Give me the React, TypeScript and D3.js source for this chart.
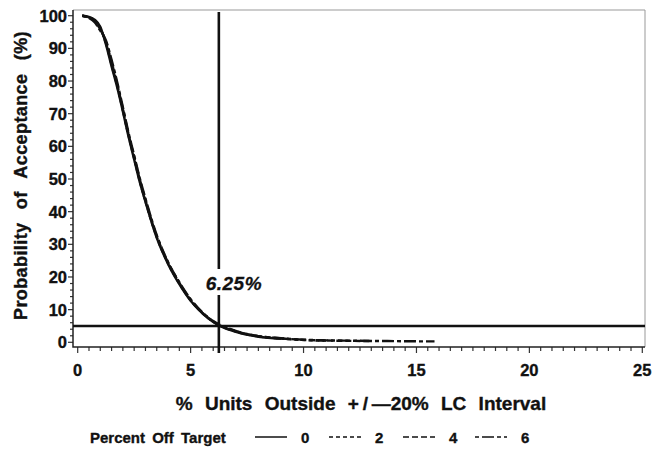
import React, { useEffect, useRef } from "react";
import * as d3 from "d3";

// % units outside +/-20% LC interval (x) for the OC curves
const pctOutside = [0.2, 0.5, 0.75, 1, 1.25, 1.5, 1.75, 2, 2.25, 2.5, 2.75, 3, 3.5, 4, 4.5, 5, 5.5, 6, 6.25, 7, 8, 9, 10, 11, 12, 13, 14, 15, 15.8];

// probability of acceptance (%) for each percent-off-target series
const accept0 = [100, 99.6, 98.8, 96.6, 91.2, 84.5, 78, 70.7, 63, 56, 49, 43, 32, 24, 17.8, 12.7, 9.0, 6.2, 5.2, 3.2, 1.7, 1.1];
const accept2 = [100, 99.5, 98.6, 96.2, 91.6, 85, 78.5, 71, 63.3, 56.3, 49.3, 43.2, 32.2, 24.2, 18, 12.9, 9.1, 6.3, 5.3, 3.3, 1.8, 1.15, 0.7, 0.5];
const accept4 = [100, 99.4, 98.3, 95.8, 92, 85.8, 79, 71.5, 63.8, 56.8, 49.8, 43.6, 32.5, 24.4, 18.2, 13.0, 9.2, 6.4, 5.4, 3.4, 1.85, 1.2, 0.75, 0.55, 0.45, 0.38];
const accept6 = [100, 99.3, 98.0, 95.4, 92.4, 86.5, 79.6, 72, 64.2, 57.2, 50.2, 44, 32.8, 24.6, 18.4, 13.2, 9.3, 6.5, 5.5, 3.5, 1.9, 1.25, 0.8, 0.6, 0.5, 0.42, 0.36, 0.3, 0.28];

const seriesNames = ["0", "2", "4", "6"];
const seriesValues = [accept0, accept2, accept4, accept6];
const seriesDash = ["none", "4,3", "6,3", "4,3,12,3"];

const xTicks = [0, 5, 10, 15, 20, 25];
const yTicks = [0, 10, 20, 30, 40, 50, 60, 70, 80, 90, 100];
const refX = 6.25;
const refY = 5;

const font = "'Liberation Sans', Arial, Helvetica, sans-serif";

export default function App() {
  const ref = useRef<SVGSVGElement>(null);

  useEffect(() => {
    const svg = d3.select(ref.current);
    svg.selectAll("*").remove();

    const frame = { left: 73, right: 645, top: 10, bottom: 347 };
    const x = d3.scaleLinear().domain([0, 25]).range([77.7, 642.3]);
    const y = d3.scaleLinear().domain([0, 100]).range([342.3, 15.7]);

    // bold text helper, slightly heavier than the stock bold face
    const heavy = (sel: any, size: number) =>
      sel.style("font", `bold ${size}px ${font}`)
        .attr("fill", "#111")
        .attr("stroke", "#111")
        .attr("stroke-width", 0.35);

    // top and right border
    svg.append("path")
      .attr("d", `M${frame.left},${frame.top}H${frame.right}V${frame.bottom}`)
      .attr("fill", "none")
      .attr("stroke", "#999")
      .attr("stroke-width", 1);

    // x ticks (minor every 0.5)
    const gx = svg.append("g").attr("transform", `translate(0,${frame.bottom})`);
    gx.selectAll("line")
      .data(d3.range(0, 25.01, 0.5))
      .enter()
      .append("line")
      .attr("x1", d => x(d))
      .attr("x2", d => x(d))
      .attr("y1", 0)
      .attr("y2", d => (d % 5 === 0 ? 6 : 4))
      .attr("stroke", "#333")
      .attr("stroke-width", 1.2);
    heavy(gx.selectAll("text")
      .data(xTicks)
      .enter()
      .append("text")
      .attr("x", d => x(d))
      .attr("y", 29)
      .attr("text-anchor", "middle"), 16.5)
      .text(d => d);

    // y ticks (minor every 2)
    const gy = svg.append("g").attr("transform", `translate(${frame.left},0)`);
    gy.selectAll("line")
      .data(d3.range(0, 100.01, 2))
      .enter()
      .append("line")
      .attr("x1", 0)
      .attr("x2", d => (d % 10 === 0 ? -5 : -3))
      .attr("y1", d => y(d))
      .attr("y2", d => y(d))
      .attr("stroke", "#333")
      .attr("stroke-width", 1.2);
    heavy(gy.selectAll("text")
      .data(yTicks)
      .enter()
      .append("text")
      .attr("x", -6)
      .attr("y", d => y(d))
      .attr("dy", "0.36em")
      .attr("text-anchor", "end"), 16.5)
      .text(d => d);

    // axis lines
    svg.append("path")
      .attr("d", `M${frame.left},${frame.top}V${frame.bottom}H${frame.right}`)
      .attr("fill", "none")
      .attr("stroke", "#222")
      .attr("stroke-width", 1.5);

    // reference lines
    svg.append("line")
      .attr("x1", frame.left).attr("x2", frame.right)
      .attr("y1", y(refY)).attr("y2", y(refY))
      .attr("stroke", "#111").attr("stroke-width", 2.6);
    svg.append("line")
      .attr("x1", x(refX)).attr("x2", x(refX))
      .attr("y1", 12).attr("y2", 269)
      .attr("stroke", "#111").attr("stroke-width", 2.6);
    svg.append("line")
      .attr("x1", x(refX)).attr("x2", x(refX))
      .attr("y1", 295).attr("y2", 353)
      .attr("stroke", "#111").attr("stroke-width", 2.6);
    svg.append("text")
      .attr("x", x(refX) + 15)
      .attr("y", 290)
      .attr("text-anchor", "middle")
      .style("font", `italic bold 19px ${font}`)
      .style("letter-spacing", "0.5px")
      .attr("fill", "#111")
      .attr("stroke", "#111")
      .attr("stroke-width", 0.3)
      .text(`${refX}%`);

    // curves
    const line = d3.line<number>()
      .x((_, i) => x(pctOutside[i]))
      .y(d => y(d))
      .curve(d3.curveMonotoneX);
    seriesValues.forEach((vals, i) => {
      svg.append("path")
        .attr("d", line(vals))
        .attr("fill", "none")
        .attr("stroke", "#111")
        .attr("stroke-width", 2.4)
        .attr("stroke-dasharray", seriesDash[i]);
    });

    // axis titles
    heavy(svg.append("text")
      .attr("x", 361)
      .attr("y", 410)
      .attr("text-anchor", "middle")
      .style("word-spacing", "7px"), 19)
      .style("word-spacing", "7px")
      .text("% Units Outside +\u2009/\u2009\u201420% LC Interval");
    heavy(svg.append("text")
      .attr("transform", `translate(27,${(frame.top + frame.bottom) / 2 - 3}) rotate(-90)`)
      .attr("text-anchor", "middle"), 18)
      .style("word-spacing", "8px")
      .style("letter-spacing", "0.4px")
      .text("Probability of Acceptance (%)");

    // legend
    const legend = svg.append("g");
    heavy(legend.append("text")
      .attr("x", 90).attr("y", 443), 15)
      .style("word-spacing", "3px")
      .text("Percent Off Target");
    const legX = [255, 329, 403, 475];
    seriesNames.forEach((name, i) => {
      legend.append("line")
        .attr("x1", legX[i]).attr("x2", legX[i] + 32)
        .attr("y1", 437).attr("y2", 437)
        .attr("stroke", "#111").attr("stroke-width", 1.5)
        .attr("stroke-dasharray", seriesDash[i]);
      heavy(legend.append("text")
        .attr("x", legX[i] + 46).attr("y", 443), 15)
        .text(name);
    });
  }, []);

  return (
    <svg
      ref={ref}
      width={662}
      height={449}
      style={{ position: "absolute", left: 0, top: 0, background: "#fff" }}
    />
  );
}
